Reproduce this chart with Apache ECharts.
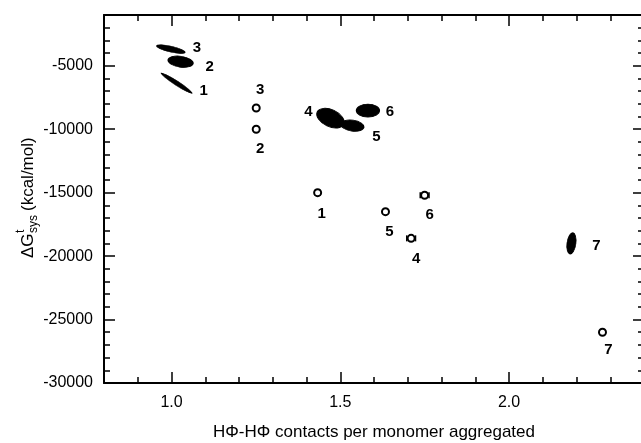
<!DOCTYPE html>
<html>
<head>
<meta charset="utf-8">
<script src="https://cdn.jsdelivr.net/npm/echarts@6/dist/echarts.min.js"></script>
<style>
  html, body { margin: 0; padding: 0; background: #fff; }
  #chart { width: 641px; height: 443px; }
</style>
</head>
<body>
<div id="chart"></div>
<script>
// simulation clusters (filled blobs)
var blobX = [0.998, 1.027, 1.015, 1.471, 1.536, 1.582, 2.185];
var blobY = [-3690, -4680, -6370, -9130, -9720, -8530, -19000];
var blobNames = ['3', '2', '1', '4', '5', '6', '7'];

// single structures (open circles)
var openX = [1.251, 1.251, 1.433, 1.634, 1.750, 1.710, 2.277];
var openY = [-8330, -10000, -15000, -16500, -15200, -18600, -26000];
var openNames = ['3', '2', '1', '5', '6', '4', '7'];
var openErr = [0, 0, 0.007, 0, 0.013, 0.013, 0];

// tick values
var xMajorTicks = [1.0, 1.5, 2.0];
var xMinorTicks = [0.9, 1.1, 1.2, 1.3, 1.4, 1.6, 1.7, 1.8, 1.9, 2.1, 2.2, 2.3];
var yMajorTicks = [-30000, -25000, -20000, -15000, -10000, -5000];
var yMinorTicks = [-29000, -28000, -27000, -26000, -24000, -23000, -22000, -21000,
    -19000, -18000, -17000, -16000, -14000, -13000, -12000, -11000,
    -9000, -8000, -7000, -6000, -4000, -3000, -2000];

// look of each blob: [width, height, rotation], and label offsets
var blobShape = [[28, 6, -13], [25, 11, -8], [35, 4.5, -33], [29, 17, -25], [23, 11, -8], [23, 13, 0], [9, 21, -8]];
var blobLabelOffset = [[26, -1], [29, 5], [27, 8], [-22, -6], [24, 11], [22, 1], [25, 2]];
var openLabelOffset = [[4, -18], [4, 20], [4, 21], [4, 20], [5, 20], [5, 21], [6, 18]];

var FONT = "'Liberation Sans', Arial, sans-serif";
var myChart = echarts.init(document.getElementById('chart'));

var blobData = blobX.map(function (x, i) {
    return {
        value: [x, blobY[i]],
        name: blobNames[i],
        symbolSize: [blobShape[i][0], blobShape[i][1]],
        symbolRotate: blobShape[i][2],
        label: {offset: blobLabelOffset[i]}
    };
});
var openData = openX.map(function (x, i) {
    return {value: [x, openY[i]], name: openNames[i], label: {offset: openLabelOffset[i]}};
});
var errData = [];
openX.forEach(function (x, i) {
    if (openErr[i] > 0) errData.push([x, openY[i], openErr[i]]);
});

function xAxisPart(pos, ticks, len, main) {
    return {
        type: 'value', min: 0.8, max: 2.4, position: pos,
        axisLine: {show: main, onZero: false, lineStyle: {color: '#000', width: 2}},
        axisTick: {show: true, inside: true, length: len, customValues: ticks, lineStyle: {color: '#000', width: 1.5}},
        axisLabel: {show: false},
        splitLine: {show: false}
    };
}
function yAxisPart(pos, ticks, len, main) {
    return {
        type: 'value', min: -30000, max: -1000, position: pos,
        axisLine: {show: main, onZero: false, lineStyle: {color: '#000', width: 2}},
        axisTick: {show: true, inside: true, length: len, customValues: ticks, lineStyle: {color: '#000', width: 1.5}},
        axisLabel: {show: false},
        splitLine: {show: false}
    };
}

var xAxes = [
    xAxisPart('bottom', xMajorTicks, 11, true),
    xAxisPart('bottom', xMinorTicks, 6, false),
    xAxisPart('top', xMajorTicks, 11, true),
    xAxisPart('top', xMinorTicks, 6, false)
];
xAxes[0].axisLabel = {
    show: true, customValues: xMajorTicks, margin: 12,
    color: '#000', fontSize: 16, fontFamily: FONT,
    formatter: function (v) { return v.toFixed(1); }
};
xAxes[0].name = 'HΦ-HΦ contacts per monomer aggregated';
xAxes[0].nameLocation = 'middle';
xAxes[0].nameGap = 41;
xAxes[0].nameTextStyle = {color: '#000', fontSize: 17, fontFamily: FONT};

var yAxes = [
    yAxisPart('left', yMajorTicks, 11, true),
    yAxisPart('left', yMinorTicks, 6, false),
    yAxisPart('right', yMajorTicks, 11, true),
    yAxisPart('right', yMinorTicks, 6, false)
];
yAxes[0].axisLabel = {
    show: true, customValues: yMajorTicks, margin: 11,
    color: '#000', fontSize: 16, fontFamily: FONT,
    formatter: function (v) { return String(v); }
};

var labelStyle = {show: true, position: 'inside', formatter: '{b}', color: '#000', fontSize: 15, fontWeight: 'bold', fontFamily: FONT};

option = {
    backgroundColor: '#fff',
    animation: false,
    grid: {left: 104, top: 15, bottom: 60, right: -3, outerBoundsMode: 'none'},
    xAxis: xAxes,
    yAxis: yAxes,
    graphic: [{
        type: 'group', x: 28, y: 258, rotation: Math.PI / 2,
        children: [
            {type: 'text', x: 0, y: 0, style: {text: 'ΔG', font: '17px ' + FONT, fill: '#000', verticalAlign: 'middle'}},
            {type: 'text', x: 25, y: -7, style: {text: 't', font: '12px ' + FONT, fill: '#000', verticalAlign: 'middle'}},
            {type: 'text', x: 25, y: 6, style: {text: 'sys', font: '12px ' + FONT, fill: '#000', verticalAlign: 'middle'}},
            {type: 'text', x: 47, y: 0, style: {text: '(kcal/mol)', font: '17px ' + FONT, fill: '#000', verticalAlign: 'middle'}}
        ]
    }],
    series: [{
        type: 'scatter',
        symbol: 'circle',
        itemStyle: {color: '#000', borderColor: '#000', borderWidth: 1, opacity: 1},
        label: labelStyle,
        data: blobData,
        z: 3
    }, {
        type: 'custom',
        renderItem: function (params, api) {
            var x = api.value(0), y = api.value(1), e = api.value(2);
            var a = api.coord([x - e, y]);
            var b = api.coord([x + e, y]);
            var st = {stroke: '#000', lineWidth: 1.5};
            return {
                type: 'group',
                children: [
                    {type: 'line', shape: {x1: a[0], y1: a[1], x2: b[0], y2: b[1]}, style: st},
                    {type: 'line', shape: {x1: a[0], y1: a[1] - 3, x2: a[0], y2: a[1] + 3}, style: st},
                    {type: 'line', shape: {x1: b[0], y1: b[1] - 3, x2: b[0], y2: b[1] + 3}, style: st}
                ]
            };
        },
        encode: {x: 0, y: 1},
        data: errData,
        z: 3
    }, {
        type: 'scatter',
        symbol: 'emptyCircle',
        symbolSize: 7,
        itemStyle: {color: '#000', borderColor: '#000', borderWidth: 1.4, opacity: 1},
        label: labelStyle,
        data: openData,
        z: 4
    }]
};

myChart.setOption(option);
</script>
</body>
</html>
